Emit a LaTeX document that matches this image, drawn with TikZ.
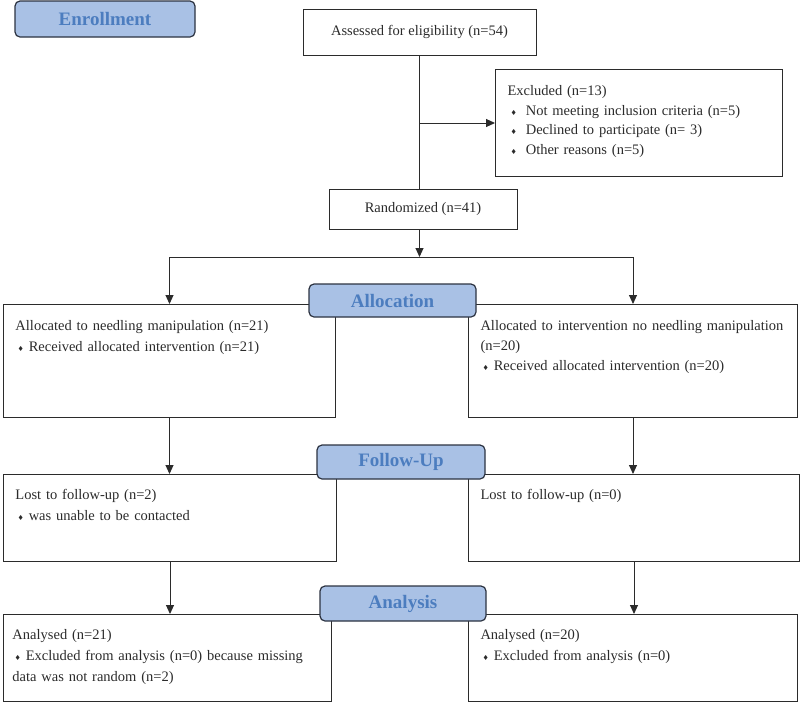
\documentclass[tikz,border=0pt]{standalone}
\usepackage{fontspec}
\setmainfont{Liberation Serif}
\newfontfamily\symbolfont{DejaVu Sans}
\usetikzlibrary{arrows.meta, positioning}
\definecolor{stagefill}{HTML}{A9C1E5}
\definecolor{stagetext}{HTML}{4C7DBF}
\definecolor{stagedraw}{HTML}{2C3341}
\definecolor{inkgray}{HTML}{2B2B2B}
\newcommand{\bul}{{\symbolfont\fontsize{7}{7}\selectfont ♦}\hspace{5pt}}

\begin{document}
\begin{tikzpicture}[x=1pt, y=-1pt, font=\fontsize{14.5}{21}\selectfont, >={Triangle[length=9pt,width=8pt]}]
\tikzstyle{stage} = [rectangle, rounded corners=5pt, draw=stagedraw, line width=1.2pt, fill=stagefill, text=stagetext, font=\fontsize{19}{22}\selectfont\bfseries, inner sep=0pt]
\tikzstyle{box} = [rectangle, draw=inkgray, text=inkgray, line width=1pt, inner sep=0pt, text centered]
\tikzstyle{panel} = [rectangle, draw=inkgray, text=inkgray, line width=1pt, anchor=north west, align=left, inner ysep=0pt, inner xsep=12pt, text height=26pt]
\tikzstyle{link} = [draw=inkgray, line width=1pt]

\useasboundingbox (0,0) rectangle (800,702);

% enrollment
\node (assess) [box, minimum width=233, minimum height=46] at (419.5,32) {Assessed for eligibility (n=54)};
\node (excl) [panel, text width=263pt, text depth=81pt, font=\fontsize{14.5}{19.5}\selectfont] at (495,69)
  {Excluded (n=13)\\
   \hspace*{3pt}\bul\hspace{4pt}Not meeting inclusion criteria (n=5)\\
   \hspace*{3pt}\bul\hspace{4pt}Declined to participate (n= 3)\\
   \hspace*{3pt}\bul\hspace{4pt}Other reasons (n=5)};
\node (rand) [box, minimum width=188, minimum height=40] at (423,209) {Randomized (n=41)};
\coordinate (split) at (assess.south |- 0,257);

% allocation
\node (allocL) [panel, text width=308pt, text depth=87pt] at (3,304)
  {Allocated to needling manipulation (n=21)\\
   \hspace*{2pt}\bul Received allocated intervention (n=21)};
\node (allocR) [panel, text width=305pt, text depth=87pt, font=\fontsize{14.5}{20}\selectfont] at (468,304)
  {Allocated to intervention no needling manipulation\\
   (n=20)\\
   \hspace*{2pt}\bul Received allocated intervention (n=20)};

% follow-up
\node (followL) [panel, text width=309pt, text height=25pt, text depth=62pt] at (3,474)
  {Lost to follow-up (n=2)\\
   \hspace*{2pt}\bul was unable to be contacted};
\node (followR) [panel, text width=307pt, text height=25pt, text depth=62pt] at (468,474)
  {Lost to follow-up (n=0)};

% analysis
\node (analL) [panel, inner xsep=9pt, text width=310pt, text height=25pt, text depth=62pt] at (3,614)
  {Analysed (n=21)\\
   \hspace*{2pt}\bul Excluded from analysis (n=0) because missing\\
   data was not random (n=2)};
\node (analR) [panel, text width=305pt, text height=25pt, text depth=62pt] at (468,614)
  {Analysed (n=20)\\
   \hspace*{2pt}\bul Excluded from analysis (n=0)};

% connectors
\draw[link] (assess.south) -- (assess.south |- rand.north);
\draw[link, ->] (assess.south |- excl.west) -- (excl.west);
\draw[link, ->] (assess.south |- rand.south) -- (split);
\draw[link, ->] (split) -| (allocL.north);
\draw[link, ->] (split) -| (allocR.north);
\draw[link, ->] (allocL.south) -- (allocL.south |- followL.north);
\draw[link, ->] (allocR.south) -- (allocR.south |- followR.north);
\draw[link, ->] (followL.south) -- (followL.south |- analL.north);
\draw[link, ->] (followR.south) -- (followR.south |- analR.north);

% stage labels
\node (enroll) [stage, minimum width=180, minimum height=36] at (105,19) {Enrollment};
\node (allocation) [stage, minimum width=167, minimum height=33] at (392.5,300.5) {Allocation};
\node (followup) [stage, minimum width=168, minimum height=34] at (401,462) {Follow-Up};
\node (analysis) [stage, minimum width=166, minimum height=35] at (403,603.5) {Analysis};

\end{tikzpicture}
\end{document}
